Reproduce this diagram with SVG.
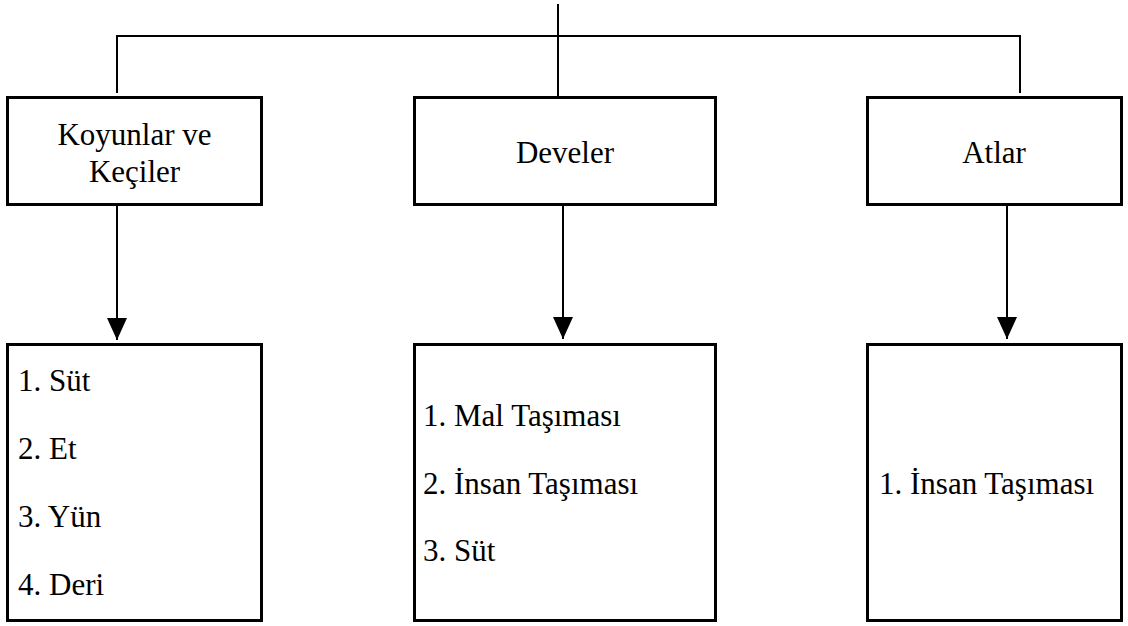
<svg xmlns="http://www.w3.org/2000/svg" width="1128" height="626" viewBox="0 0 1128 626">
<style>
.box{fill:#fff;stroke:#000;stroke-width:3}
.ln{fill:none;stroke:#000;stroke-width:2}
.t{font-family:"Liberation Serif","Times New Roman",serif;font-size:31px;fill:#000}
.c{text-anchor:middle}
</style>
<defs>
<marker id="ah" markerWidth="22" markerHeight="20" refX="22" refY="10" orient="auto" markerUnits="userSpaceOnUse">
<path d="M0,0 L22,10 L0,20 z" fill="#000"/>
</marker>
</defs>
<rect width="1128" height="626" fill="#fff"/>
<g id="connectors">
<line class="ln" x1="558" y1="4" x2="558" y2="97"/>
<line class="ln" x1="116" y1="36" x2="1021" y2="36"/>
<line class="ln" x1="117" y1="36" x2="117" y2="93"/>
<line class="ln" x1="1020" y1="36" x2="1020" y2="93"/>
<line class="ln" x1="117" y1="206" x2="117" y2="340" marker-end="url(#ah)"/>
<line class="ln" x1="563" y1="206" x2="563" y2="339" marker-end="url(#ah)"/>
<line class="ln" x1="1007" y1="206" x2="1007" y2="339" marker-end="url(#ah)"/>
</g>
<g id="koyunlar">
<rect class="box" x="7.5" y="97.5" width="254" height="107"/>
<text class="t c" x="134.5" y="145">Koyunlar ve</text>
<text class="t c" x="134.5" y="182">Keçiler</text>
</g>
<g id="develer">
<rect class="box" x="414.5" y="97.5" width="301" height="107"/>
<text class="t c" x="565" y="163">Develer</text>
</g>
<g id="atlar">
<rect class="box" x="867.5" y="97.5" width="254" height="107"/>
<text class="t c" x="994" y="163">Atlar</text>
</g>
<g id="koyunlar-list">
<rect class="box" x="7.5" y="344.5" width="254" height="276"/>
<text class="t" x="18" y="391">1. Süt</text>
<text class="t" x="18" y="459">2. Et</text>
<text class="t" x="18" y="527">3. Yün</text>
<text class="t" x="18" y="595">4. Deri</text>
</g>
<g id="develer-list">
<rect class="box" x="414.5" y="344.5" width="301" height="276"/>
<text class="t" x="423" y="426">1. Mal Taşıması</text>
<text class="t" x="423" y="494">2. İnsan Taşıması</text>
<text class="t" x="423" y="561">3. Süt</text>
</g>
<g id="atlar-list">
<rect class="box" x="867.5" y="344.5" width="254" height="276"/>
<text class="t" x="879" y="494">1. İnsan Taşıması</text>
</g>
</svg>
